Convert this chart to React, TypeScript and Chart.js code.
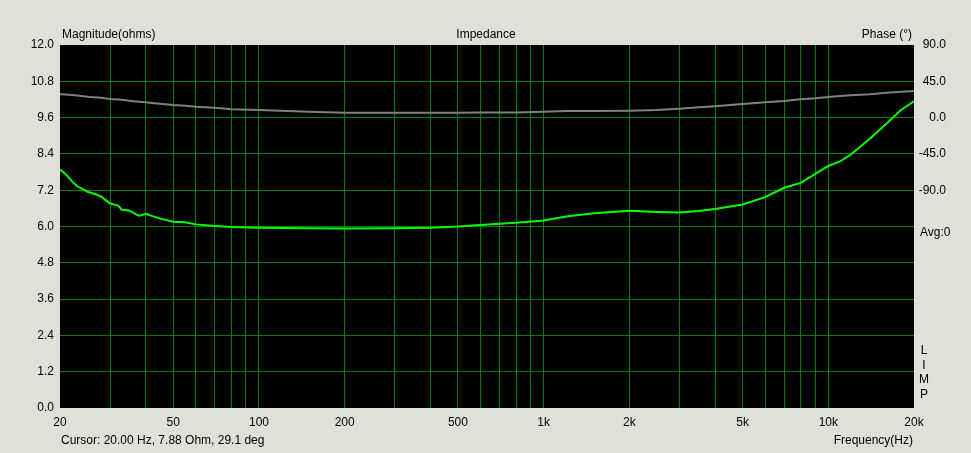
import React, { useEffect, useRef } from 'react';
import { Chart, registerables } from 'chart.js';

Chart.register(...registerables);

const FREQS = [20, 21, 22, 23, 25, 27, 28, 30, 32, 33, 35, 37, 38, 40, 42, 45, 50, 55, 60, 70, 80, 100, 150, 200, 300, 400, 500, 600, 700, 800, 1000, 1200, 1500, 2000, 2500, 3000, 3500, 4000, 5000, 6000, 7000, 8000, 9000, 10000, 11000, 12000, 14000, 16000, 18000, 20000];
const MAGNITUDE = [7.88, 7.72, 7.5, 7.33, 7.15, 7.05, 6.98, 6.76, 6.69, 6.55, 6.53, 6.4, 6.36, 6.42, 6.35, 6.26, 6.16, 6.14, 6.07, 6.02, 5.98, 5.96, 5.94, 5.93, 5.94, 5.96, 6.0, 6.05, 6.09, 6.12, 6.2, 6.33, 6.44, 6.52, 6.48, 6.46, 6.51, 6.58, 6.73, 6.97, 7.28, 7.44, 7.74, 8.0, 8.15, 8.38, 8.9, 9.4, 9.85, 10.14];
const PHASE = [29.1, 28.5, 28.0, 27.3, 25.9, 25.0, 24.5, 23.1, 22.4, 22.0, 21.0, 20.0, 19.6, 19.0, 18.2, 17.2, 15.6, 14.6, 13.5, 12.3, 10.3, 9.4, 7.3, 6.1, 6.1, 6.1, 6.1, 6.2, 6.2, 6.2, 7.3, 8.2, 8.2, 8.6, 9.4, 11.0, 12.7, 14.0, 16.9, 19.0, 20.6, 22.7, 23.9, 25.5, 26.8, 27.8, 28.9, 30.9, 32.1, 33.0];

const GRID_FREQS = [20, 30, 40, 50, 60, 70, 80, 90, 100, 200, 300, 400, 500, 600, 700, 800, 900, 1000, 2000, 3000, 4000, 5000, 6000, 7000, 8000, 9000, 10000, 20000];
const FREQ_LABEL_VALUES = [20, 50, 100, 200, 500, 1000, 2000, 5000, 10000, 20000];
const FREQ_LABELS = ['20', '50', '100', '200', '500', '1k', '2k', '5k', '10k', '20k'];
const MAG_TICKS = [0, 1.2, 2.4, 3.6, 4.8, 6.0, 7.2, 8.4, 9.6, 10.8, 12.0];
const PHASE_TICKS = [-90, -45, 0, 45, 90];

const FONT = '"Liberation Sans", Arial, sans-serif';
const GRID_COLOR = '#008000';
const BG = '#E0DFD8';

const overlayPlugin = {
  id: 'overlay',
  beforeDraw(chart: any) {
    const { ctx, chartArea } = chart;
    ctx.save();
    ctx.fillStyle = '#000000';
    ctx.fillRect(chartArea.left, chartArea.top, chartArea.right - chartArea.left, chartArea.bottom - chartArea.top);
    ctx.restore();
  },
  afterDraw(chart: any) {
    const { ctx } = chart;
    ctx.save();
    ctx.font = '12px ' + FONT;
    ctx.fillStyle = '#000000';
    ctx.textBaseline = 'middle';
    ctx.textAlign = 'left';
    ctx.fillText('Magnitude(ohms)', 62, 35);
    ctx.textAlign = 'center';
    ctx.fillText('Impedance', 486, 35);
    ctx.textAlign = 'right';
    ctx.fillText('Phase (°)', 912, 35);
    ctx.textAlign = 'left';
    ctx.fillText('Avg:0', 920, 233);
    ctx.fillText('Cursor: 20.00 Hz, 7.88 Ohm, 29.1 deg', 61, 441);
    ctx.textAlign = 'right';
    ctx.fillText('Frequency(Hz)', 913, 441);
    ctx.textAlign = 'center';
    const letters = ['L', 'I', 'M', 'P'];
    letters.forEach((l, i) => ctx.fillText(l, 924, 351 + i * 14.5));
    ctx.restore();
  },
};

export default function App() {
  const canvasRef = useRef<HTMLCanvasElement | null>(null);

  useEffect(() => {
    if (!canvasRef.current) return;
    const chart = new Chart(canvasRef.current, {
      type: 'line',
      data: {
        datasets: [
          {
            label: 'Magnitude',
            data: FREQS.map((f, i) => ({ x: f, y: MAGNITUDE[i] })),
            borderColor: '#00FF00',
            borderWidth: 2,
            pointRadius: 0,
            tension: 0,
            yAxisID: 'y',
            order: 0,
          },
          {
            label: 'Phase',
            data: FREQS.map((f, i) => ({ x: f, y: PHASE[i] })),
            borderColor: '#808080',
            borderWidth: 2,
            pointRadius: 0,
            tension: 0,
            yAxisID: 'y1',
            order: 1,
          },
        ],
      },
      options: {
        animation: false,
        responsive: true,
        maintainAspectRatio: false,
        layout: { padding: { top: 45, right: 25, left: 0, bottom: 0 } },
        plugins: { legend: { display: false }, tooltip: { enabled: false } },
        events: [],
        scales: {
          x: {
            type: 'logarithmic',
            min: 20,
            max: 20000,
            border: { display: false },
            grid: {
              drawTicks: false,
              lineWidth: 1,
              color: (c: any) => (c.tick && (c.tick.value === 20 || c.tick.value === 20000) ? 'rgba(0,0,0,0)' : GRID_COLOR),
            },
            afterBuildTicks: (scale: any) => {
              scale.ticks = GRID_FREQS.map((v) => ({ value: v }));
            },
            afterFit: (scale: any) => {
              scale.height = 45;
            },
            ticks: {
              autoSkip: false,
              maxRotation: 0,
              minRotation: 0,
              padding: 7,
              color: '#000000',
              font: { family: FONT, size: 12 },
              callback: (v: any) => {
                const i = FREQ_LABEL_VALUES.indexOf(Number(v));
                return i >= 0 ? FREQ_LABELS[i] : '';
              },
            },
          },
          y: {
            position: 'left',
            min: 0,
            max: 12,
            border: { display: false },
            grid: {
              drawTicks: false,
              lineWidth: 1,
              color: (c: any) => (c.tick && (c.tick.value === 0 || c.tick.value === 12) ? 'rgba(0,0,0,0)' : GRID_COLOR),
            },
            afterBuildTicks: (scale: any) => {
              scale.ticks = MAG_TICKS.map((v) => ({ value: v }));
            },
            afterFit: (scale: any) => {
              scale.width = 60;
            },
            ticks: {
              padding: 6,
              color: '#000000',
              font: { family: FONT, size: 12 },
              callback: (v: any) => Number(v).toFixed(1),
            },
          },
          y1: {
            position: 'right',
            min: -360,
            max: 90,
            border: { display: false },
            grid: { display: false, drawTicks: false },
            afterBuildTicks: (scale: any) => {
              scale.ticks = PHASE_TICKS.map((v) => ({ value: v }));
            },
            afterFit: (scale: any) => {
              scale.width = 32;
            },
            ticks: {
              crossAlign: 'far',
              padding: 4,
              color: '#000000',
              font: { family: FONT, size: 12 },
              callback: (v: any) => Number(v).toFixed(1),
            },
          },
        },
      } as any,
      plugins: [overlayPlugin],
    });
    return () => chart.destroy();
  }, []);

  return (
    <div
      style={{
        position: 'absolute',
        left: 0,
        top: 0,
        width: 971,
        height: 453,
        background: BG,
      }}
    >
      <canvas ref={canvasRef} />
    </div>
  );
}
